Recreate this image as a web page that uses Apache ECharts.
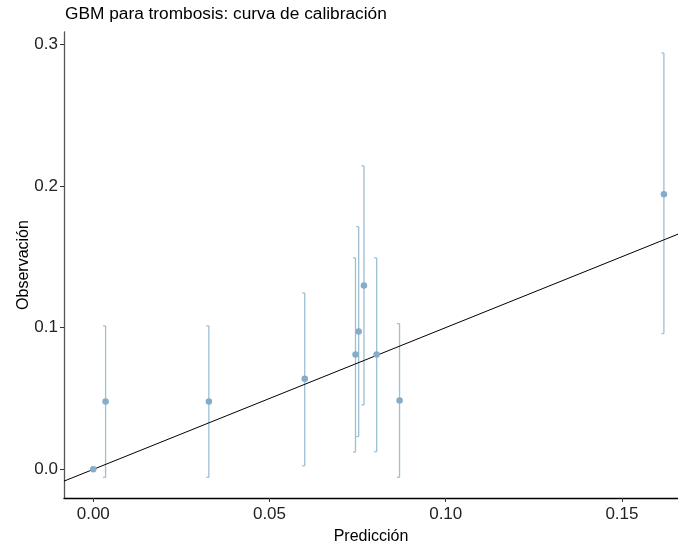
<!DOCTYPE html>
<html><head><meta charset="utf-8">
<script src="https://cdn.jsdelivr.net/npm/echarts@6/dist/echarts.min.js"></script>
<style>html,body{margin:0;padding:0;background:#fff}#c{width:678px;height:550px}</style>
</head><body><div id="c"></div>
<script>
const pred = [0.0000, 0.0035, 0.0328, 0.0600, 0.0744, 0.0753, 0.0768, 0.0804, 0.0869, 0.1619];
const obs  = [0.0000, 0.0478, 0.0478, 0.0640, 0.0810, 0.0972, 0.1297, 0.0810, 0.0485, 0.1940];
const lower = [null, -0.0056, -0.0056, 0.0025, 0.0122, 0.0232, 0.0454, 0.0124, -0.0056, 0.0958];
const upper = [null, 0.1012, 0.1012, 0.1244, 0.1492, 0.1712, 0.2141, 0.1492, 0.1028, 0.2937];
const xTicks = [0, 0.05, 0.10, 0.15];
const yTicks = [0, 0.1, 0.2, 0.3];
const xMin = -0.0083, xMax = 0.1659, yMin = -0.0202, yMax = 0.3085;

const chart = echarts.init(document.getElementById('c'), null, {renderer: 'canvas'});
const font = '"Liberation Sans", Arial, sans-serif';
const errData = pred.map((p, i) => [p, lower[i], upper[i]]).filter(d => d[1] !== null);
chart.setOption({
  animation: false,
  title: {text: 'GBM para trombosis: curva de calibración', left: 60, top: 1,
    textStyle: {fontFamily: font, fontSize: 17.3, fontWeight: 'normal', color: '#000'}},
  grid: {left: 64, right: 0, top: 32, bottom: 50, containLabel: false},
  xAxis: {type: 'value', min: xMin, max: xMax, name: 'Predicción', nameLocation: 'middle', nameGap: 31,
    nameMoveOverlap: false,
    nameTextStyle: {fontFamily: font, fontSize: 16, color: '#000'},
    axisLine: {show: true, onZero: false, lineStyle: {color: '#000', width: 1.3}},
    axisTick: {show: true, length: 4, lineStyle: {color: '#333'}, customValues: xTicks},
    axisLabel: {fontFamily: font, fontSize: 17, color: '#222', margin: 8, customValues: xTicks,
      formatter: v => v.toFixed(2)},
    splitLine: {show: false}},
  yAxis: {type: 'value', min: yMin, max: yMax, name: 'Observación', nameLocation: 'middle', nameGap: 32,
    nameMoveOverlap: false,
    nameTextStyle: {fontFamily: font, fontSize: 16, color: '#000'},
    axisLine: {show: true, onZero: false, lineStyle: {color: '#555', width: 1.3}},
    axisTick: {show: true, length: 4, lineStyle: {color: '#333'}, customValues: yTicks},
    axisLabel: {fontFamily: font, fontSize: 17, color: '#222', margin: 6, customValues: yTicks,
      formatter: v => v.toFixed(1)},
    splitLine: {show: false}},
  series: [
    {type: 'custom', data: errData, z: 2, clip: true,
      renderItem: function (params, api) {
        const x = api.value(0);
        const lo = api.coord([x, api.value(1)]);
        const hi = api.coord([x, api.value(2)]);
        const w = 2.5;
        const st = {stroke: '#9dbfd2', lineWidth: 1.3, fill: null};
        return {type: 'group', children: [
          {type: 'line', shape: {x1: lo[0], y1: lo[1], x2: hi[0], y2: hi[1]}, style: st},
          {type: 'line', shape: {x1: lo[0] - w, y1: lo[1], x2: lo[0], y2: lo[1]}, style: st},
          {type: 'line', shape: {x1: hi[0] - w, y1: hi[1], x2: hi[0], y2: hi[1]}, style: st}
        ]};
      }},
    {type: 'line', data: [[xMin, xMin], [xMax, xMax]], symbol: 'none', z: 3,
      lineStyle: {color: '#000', width: 1}},
    {type: 'scatter', data: pred.map((p, i) => [p, obs[i]]), symbolSize: 6.5, z: 4,
      itemStyle: {color: '#85acc9', opacity: 1}}
  ]
});
</script></body></html>
